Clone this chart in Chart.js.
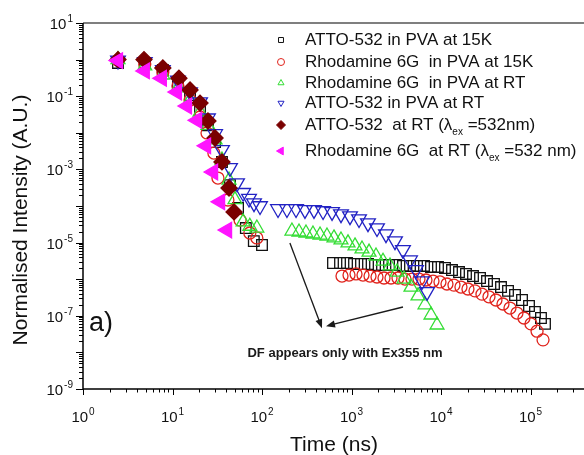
<!DOCTYPE html>
<html>
<head>
<meta charset="utf-8">
<script src="https://cdn.jsdelivr.net/npm/chart.js@4.4.1/dist/chart.umd.min.js"></script>
<style>
  html, body { margin: 0; padding: 0; background: #fff; }
  #wrap { width: 584px; height: 455px; }
</style>
</head>
<body>
<div id="wrap"><canvas id="decayChart" width="584" height="455"></canvas></div>
<script>
// ---- data (time in ns, normalised intensity) ----
const atto15kX = [2.46, 4.9, 7.8, 11.5, 15.7, 20.3, 24.9, 29.9, 35.7, 43.9, 54, 66, 81, 100,
  621, 744, 891, 1067, 1277, 1529, 1832, 2193, 2625, 3142, 3760, 4504, 5393, 6456, 7730, 9252,
  11080, 13270, 15890, 19020, 22780, 27280, 32660, 39100, 46810, 56060, 67130, 80370, 96220, 112200, 130900, 145200];
const atto15kY = [0.81, 0.81, 0.52, 0.24, 0.108, 0.042, 0.016, 5.6e-3, 1.6e-3, 3.7e-4, 8.8e-5, 2.5e-5, 1.1e-5, 8.6e-6,
  2.77e-6, 2.77e-6, 2.77e-6, 2.6e-6, 2.6e-6, 2.6e-6, 2.44e-6, 2.44e-6, 2.44e-6, 2.44e-6, 2.3e-6, 2.3e-6, 2.3e-6, 2.3e-6, 2.16e-6, 2.16e-6,
  2.02e-6, 1.78e-6, 1.57e-6, 1.39e-6, 1.22e-6, 1.08e-6, 8.9e-7, 7.4e-7, 6.1e-7, 4.8e-7, 3.7e-7, 2.7e-7, 1.85e-7, 1.27e-7, 8.7e-8, 6.0e-8];

const r6g15kX = [2.46, 4.9, 7.8, 11.5, 15.7, 20.3, 24.3, 29.0, 32.2, 41.6, 56.9, 73.1, 87.6,
  783, 938, 1123, 1344, 1610, 1927, 2307, 2762, 3307, 3959, 4740, 5675, 6794, 8135, 9740,
  11660, 13960, 16710, 20010, 23960, 28690, 34350, 41130, 49250, 58970, 70610, 84540, 101200, 118300, 138000];
const r6g15kY = [0.95, 0.76, 0.46, 0.19, 0.079, 0.027, 9.9e-3, 2.8e-3, 5.8e-4, 1.46e-4, 4.1e-5, 1.83e-5, 1.34e-5,
  1.22e-6, 1.30e-6, 1.39e-6, 1.30e-6, 1.22e-6, 1.15e-6, 1.08e-6, 1.08e-6, 1.08e-6, 1.01e-6, 1.01e-6, 1.01e-6, 9.5e-7, 8.9e-7, 8.4e-7,
  7.4e-7, 6.9e-7, 6.1e-7, 5.4e-7, 4.8e-7, 3.9e-7, 3.3e-7, 2.7e-7, 2.1e-7, 1.63e-7, 1.19e-7, 8.7e-8, 6.0e-8, 3.8e-8, 2.2e-8];

const r6gRtX = [2.46, 4.9, 7.8, 11.5, 15.7, 20.3, 24.9, 29.9, 35.7, 42.8, 49.9, 61.5, 73.1, 87.6,
  216, 259, 310, 371, 445, 532, 637, 763, 914, 1094, 1310, 1570, 1878, 2249, 2693, 3224, 3860, 4622, 5534, 6626, 7734, 9021];
const r6gRtY = [1.0, 0.67, 0.38, 0.168, 0.079, 0.037, 0.016, 6.4e-3, 1.8e-3, 5.1e-4, 1.5e-4, 3.7e-5, 2.8e-5, 2.5e-5,
  2.07e-5, 1.95e-5, 1.83e-5, 1.72e-5, 1.61e-5, 1.51e-5, 1.34e-5, 1.18e-5, 9.8e-6, 8.1e-6, 6.7e-6, 5.5e-6, 4.3e-6, 3.1e-6, 2.3e-6, 1.57e-6, 1.01e-6, 6.1e-7, 3.5e-7, 2.0e-7, 1.05e-7, 5.6e-8];

const attoRtX = [2.46, 4.9, 7.8, 11.5, 15.7, 20.3, 24.9, 29.9, 35.7, 43.9, 52.6, 61.5, 71.6, 81.4, 95,
  151, 190, 240, 302, 381, 481, 606, 763, 962, 1213, 1528, 1927, 2428, 3061, 3758, 4504, 5257, 6134, 6977];
const attoRtY = [0.95, 0.86, 0.52, 0.27, 0.13, 0.069, 0.025, 9.3e-3, 3.4e-3, 1.1e-3, 4.2e-4, 2.3e-4, 1.6e-4, 1.2e-4, 1.0e-4,
  8.3e-5, 8.3e-5, 8.3e-5, 7.8e-5, 7.8e-5, 7.3e-5, 6.9e-5, 6.0e-5, 5.3e-5, 4.4e-5, 3.4e-5, 2.5e-5, 1.7e-5, 1.1e-5, 6.3e-6, 3.3e-6, 1.8e-6, 8.9e-7, 4.5e-7];

const atto532X = [2.46, 4.8, 7.8, 11.8, 15.7, 20.3, 24.9, 29.9, 35.7, 42.8, 48.7];
const atto532Y = [1.0, 1.0, 0.59, 0.31, 0.148, 0.065, 0.021, 7.2e-3, 1.6e-3, 3.1e-4, 6.9e-5];

const r6g532X = [2.46, 4.9, 7.6, 11.2, 14.5, 18.8, 23.7, 28.4, 34, 40.7];
const r6g532Y = [0.94, 0.49, 0.31, 0.13, 0.054, 0.022, 4.4e-3, 8.5e-4, 1.3e-4, 2.2e-5];

const legendLabels = [
  'ATTO-532 in PVA at 15K',
  'Rhodamine 6G  in PVA at 15K',
  'Rhodamine 6G  in PVA at RT',
  'ATTO-532 in PVA at RT',
  'ATTO-532  at RT (λ_ex =532nm)',
  'Rhodamine 6G  at RT (λ_ex =532 nm)'
];
const xTickExps = [0, 1, 2, 3, 4, 5];
const yTickExps = [1, -1, -3, -5, -7, -9];

// annotation arrows, in data units: [fromX, fromY, toX, toY]
const dfArrows = [[205, 9.8e-6, 468, 4.6e-8], [3760, 1.74e-7, 519, 5.2e-8]];
const dfNote = 'DF appears only with Ex355 nm';

const FONT = "'Liberation Sans', Arial, sans-serif";

const series = [
  { xs: atto15kX, ys: atto15kY, style: 'rect', r: 7.5, rot: 0, color: '#111111', fill: false, order: 5 },
  { xs: r6g15kX, ys: r6g15kY, style: 'circle', r: 6, rot: 0, color: '#e0231c', fill: false, order: 4 },
  { xs: r6gRtX, ys: r6gRtY, style: 'triangle', r: 8, rot: 0, color: '#33dd33', fill: false, order: 3 },
  { xs: attoRtX, ys: attoRtY, style: 'triangle', r: 8.5, rot: 180, color: '#2222c4', fill: false, order: 2 },
  { xs: atto532X, ys: atto532Y, style: 'rectRot', r: 8, rot: 0, color: '#7a0000', fill: true, order: 1 },
  { xs: r6g532X, ys: r6g532Y, style: 'triangle', r: 9, rot: -90, color: '#ff14ff', fill: true, order: 0 }
];

function drawPow(ctx, exp, x, y, align) {
  const base = '10', sup = String(exp);
  ctx.font = '15px ' + FONT;
  const w1 = ctx.measureText(base).width;
  ctx.font = '10px ' + FONT;
  const w2 = ctx.measureText(sup).width;
  const total = w1 + w2 + 1;
  const left = align === 'right' ? x - total : x - total / 2;
  ctx.textAlign = 'left';
  ctx.textBaseline = 'alphabetic';
  ctx.font = '15px ' + FONT;
  ctx.fillText(base, left, y);
  ctx.font = '10px ' + FONT;
  ctx.fillText(sup, left + w1 + 1, y - 7);
}

const axesPlugin = {
  id: 'axesPlugin',
  beforeDatasetsDraw(chart) {
    const { ctx, chartArea: a, scales: { x, y } } = chart;
    ctx.save();
    ctx.strokeStyle = '#000';
    ctx.fillStyle = '#111';
    // frame
    ctx.lineWidth = 1.5;
    ctx.beginPath();
    ctx.moveTo(a.left, a.top);
    ctx.lineTo(a.left, a.bottom);
    ctx.lineTo(a.right, a.bottom);
    ctx.stroke();
    ctx.lineWidth = 1.2;
    ctx.beginPath();
    ctx.moveTo(a.left, a.top);
    ctx.lineTo(a.right, a.top);
    ctx.stroke();

    // x ticks
    ctx.lineWidth = 1;
    for (let e = 0; e <= 5; e++) {
      for (let m = 1; m <= 9; m++) {
        const v = m * Math.pow(10, e);
        if (v > x.max) break;
        const px = Math.round(x.getPixelForValue(v)) + 0.5;
        const len = m === 1 ? 6 : 3.5;
        ctx.beginPath();
        ctx.moveTo(px, a.bottom);
        ctx.lineTo(px, a.bottom + len);
        ctx.stroke();
      }
    }
    // y ticks
    for (let e = -9; e <= 1; e++) {
      for (let m = 1; m <= 9; m++) {
        const v = m * Math.pow(10, e);
        if (v > y.max * 1.0001) break;
        const py = Math.round(y.getPixelForValue(v)) + 0.5;
        const len = m === 1 ? 7 : 4;
        ctx.beginPath();
        ctx.moveTo(a.left, py);
        ctx.lineTo(a.left - len, py);
        ctx.stroke();
      }
    }
    // tick labels
    xTickExps.forEach(e => drawPow(ctx, e, x.getPixelForValue(Math.pow(10, e)), a.bottom + 33, 'center'));
    yTickExps.forEach(e => drawPow(ctx, e, 73, y.getPixelForValue(Math.pow(10, e)) + 6, 'right'));

    // axis titles
    ctx.font = '21px ' + FONT;
    ctx.textAlign = 'center';
    ctx.textBaseline = 'middle';
    ctx.fillText('Time (ns)', 334, 445);
    ctx.save();
    ctx.translate(21, 220);
    ctx.rotate(-Math.PI / 2);
    ctx.fillText('Normalised Intensity (A.U.)', 0, 0);
    ctx.restore();
    ctx.restore();
  },
  afterDraw(chart) {
    const { ctx, scales: { x, y } } = chart;
    ctx.save();
    // legend
    const rows = [40, 62, 83, 103, 125, 151];
    legendLabels.forEach((lab, i) => {
      const s = series[i];
      ctx.strokeStyle = s.color;
      ctx.fillStyle = s.fill ? s.color : 'rgba(0,0,0,0)';
      ctx.lineWidth = 1;
      Chart.helpers.drawPoint(ctx, { pointStyle: s.style, rotation: s.rot, radius: s.fill ? 4.5 : 3.5, borderWidth: 1 }, 281, rows[i]);
      ctx.fillStyle = '#111';
      ctx.textAlign = 'left';
      ctx.textBaseline = 'middle';
      const parts = lab.split('_ex');
      let tx = 305;
      ctx.font = '17px ' + FONT;
      ctx.fillText(parts[0], tx, rows[i]);
      if (parts.length > 1) {
        tx += ctx.measureText(parts[0]).width;
        ctx.font = '10px ' + FONT;
        ctx.fillText('ex', tx, rows[i] + 7);
        tx += ctx.measureText('ex').width;
        ctx.font = '17px ' + FONT;
        ctx.fillText(parts[1], tx, rows[i]);
      }
    });

    // panel label
    ctx.font = '27px ' + FONT;
    ctx.textBaseline = 'alphabetic';
    ctx.fillText('a)', 89, 331);

    // arrows
    ctx.strokeStyle = '#1a1a1a';
    ctx.fillStyle = '#1a1a1a';
    ctx.lineWidth = 1.3;
    dfArrows.forEach(([x0, y0, x1, y1]) => {
      const ax = x.getPixelForValue(x0), ay = y.getPixelForValue(y0);
      const bx = x.getPixelForValue(x1), by = y.getPixelForValue(y1);
      const ang = Math.atan2(by - ay, bx - ax);
      ctx.beginPath();
      ctx.moveTo(ax, ay);
      ctx.lineTo(bx - 6 * Math.cos(ang), by - 6 * Math.sin(ang));
      ctx.stroke();
      ctx.beginPath();
      ctx.moveTo(bx, by);
      ctx.lineTo(bx - 9 * Math.cos(ang) + 3.5 * Math.sin(ang), by - 9 * Math.sin(ang) - 3.5 * Math.cos(ang));
      ctx.lineTo(bx - 9 * Math.cos(ang) - 3.5 * Math.sin(ang), by - 9 * Math.sin(ang) + 3.5 * Math.cos(ang));
      ctx.closePath();
      ctx.fill();
    });
    ctx.font = 'bold 13px ' + FONT;
    ctx.textAlign = 'center';
    ctx.textBaseline = 'middle';
    ctx.fillText(dfNote, 345, 353);
    ctx.restore();
  }
};

new Chart(document.getElementById('decayChart').getContext('2d'), {
  type: 'scatter',
  data: {
    datasets: series.map((s, i) => ({
      label: legendLabels[i],
      data: s.xs.map((v, k) => ({ x: v, y: s.ys[k] })),
      showLine: false,
      pointStyle: s.style,
      pointRotation: s.rot,
      pointRadius: s.r,
      pointBorderWidth: 1.3,
      borderColor: s.color,
      backgroundColor: s.fill ? s.color : 'rgba(0,0,0,0)',
      order: s.order
    }))
  },
  options: {
    responsive: false,
    animation: false,
    devicePixelRatio: 1,
    layout: { autoPadding: false, padding: { top: 23, left: 0, right: 0, bottom: 0 } },
    scales: {
      x: {
        type: 'logarithmic', min: 1, max: 3.96e5,
        ticks: { display: false }, grid: { display: false }, border: { display: false },
        afterFit: (s) => { s.height = 66; }
      },
      y: {
        type: 'logarithmic', min: 1e-9, max: 10,
        ticks: { display: false }, grid: { display: false }, border: { display: false },
        afterFit: (s) => { s.width = 83; }
      }
    },
    plugins: { legend: { display: false }, tooltip: { enabled: false } }
  },
  plugins: [axesPlugin]
});
</script>
</body>
</html>
